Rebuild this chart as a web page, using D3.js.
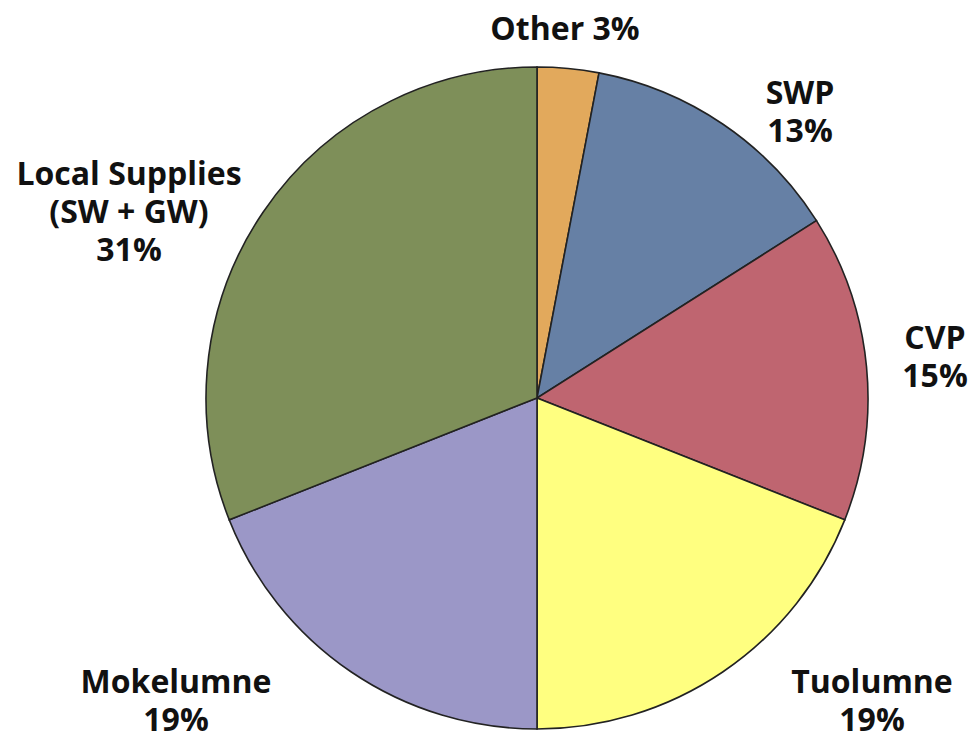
<!DOCTYPE html>
<html lang="en">
<head>
  <meta charset="UTF-8">
  <title>Water Supply Sources</title>
  <script src="https://d3js.org/d3.v7.min.js"></script>
  <style>
    body {
      margin: 0;
      background: #fff;
    }

    svg {
      display: block;
    }

    .slice {
      stroke: #222;
      stroke-width: 1.6;
    }

    .label {
      font-family: "Open Sans", sans-serif;
      font-weight: 700;
      font-size: 32px;
      fill: #111;
      text-anchor: middle;
    }
  </style>
</head>
<body>
  <svg id="chart"></svg>
  <script>
    // data, clockwise from 12 o'clock
    const sources = ["Other", "SWP", "CVP", "Tuolumne", "Mokelumne", "Local Supplies"];
    const shares = [3, 13, 15, 19, 19, 31];
    const labelLines = [
      ["Other 3%"],
      ["SWP", "13%"],
      ["CVP", "15%"],
      ["Tuolumne", "19%"],
      ["Mokelumne", "19%"],
      ["Local Supplies", "(SW + GW)", "31%"]
    ];
    const colors = ["#e2a95c", "#6680a5", "#bf6570", "#ffff80", "#9b97c7", "#7e8f59"];

    const width = 979;
    const height = 738;
    const cx = 537;
    const cy = 398;
    const radius = 331;

    // where each label block sits (centre x, first baseline y)
    const labelPos = {
      "Other": [565, 40],
      "SWP": [800, 104],
      "CVP": [935, 349],
      "Tuolumne": [872, 693],
      "Mokelumne": [176, 693],
      "Local Supplies": [129, 185]
    };
    const lineGap = 38;

    const svg = d3.select("#chart")
      .attr("width", width)
      .attr("height", height);

    const color = d3.scaleOrdinal().domain(sources).range(colors);

    const pie = d3.pie()
      .value(d => d.value)
      .sort(null);

    const arc = d3.arc()
      .innerRadius(0)
      .outerRadius(radius);

    const rows = sources.map((s, i) => ({ name: s, value: shares[i], lines: labelLines[i] }));

    const g = svg.append("g")
      .attr("transform", `translate(${cx}, ${cy})`);

    g.selectAll("path")
      .data(pie(rows))
      .enter()
      .append("path")
      .attr("class", "slice")
      .attr("d", arc)
      .attr("fill", d => color(d.data.name));

    // labels
    const labels = svg.append("g")
      .selectAll("text")
      .data(rows)
      .enter()
      .append("text")
      .attr("class", "label")
      .attr("x", d => labelPos[d.name][0])
      .attr("y", d => labelPos[d.name][1]);

    labels.selectAll("tspan")
      .data(d => d.lines.map((t, i) => ({ t, i, x: labelPos[d.name][0] })))
      .enter()
      .append("tspan")
      .attr("x", d => d.x)
      .attr("dy", d => d.i === 0 ? 0 : lineGap)
      .text(d => d.t);
  </script>
</body>
</html>
